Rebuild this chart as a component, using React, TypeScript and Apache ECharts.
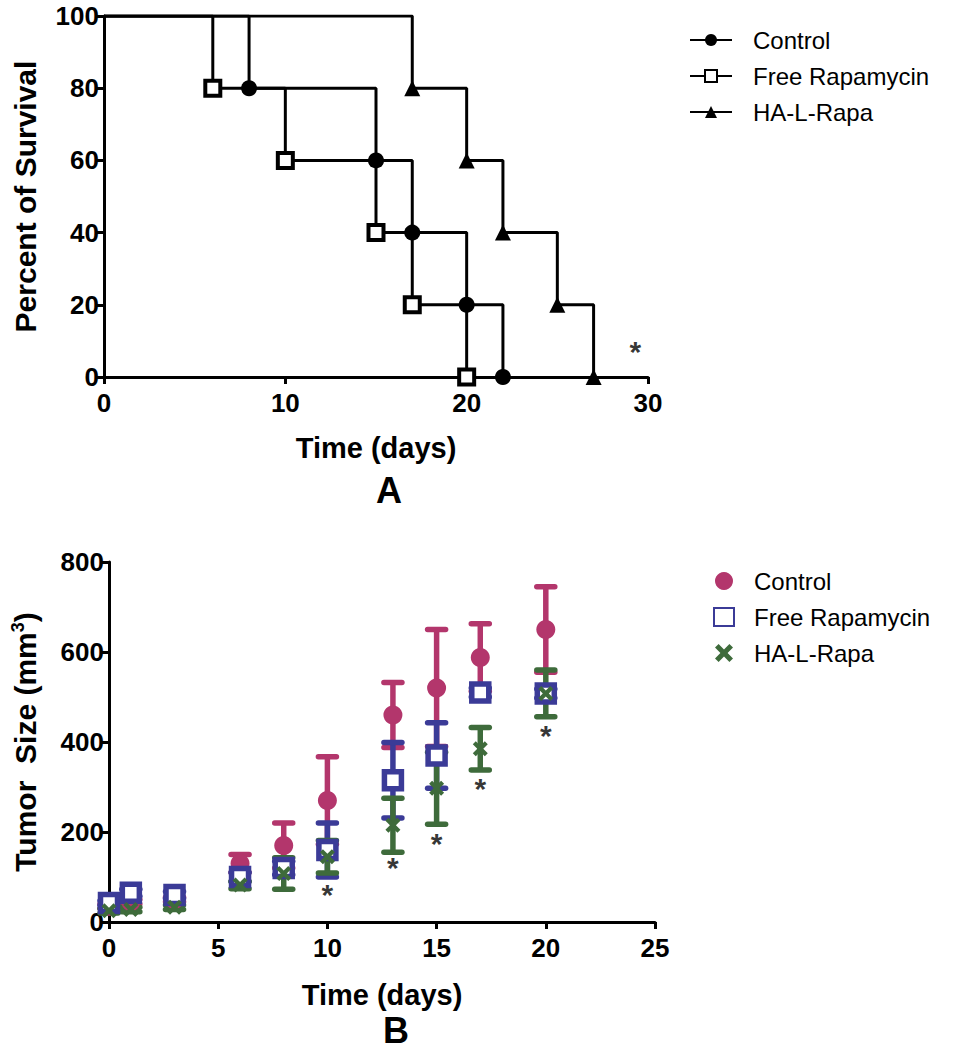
import React, { useEffect, useRef } from "react";
import * as echarts from "echarts";

// ---------- Panel A: Kaplan-Meier survival ----------
const survControlDays = [0, 8, 15, 17, 20, 22];
const survControlPct = [100, 80, 60, 40, 20, 0];
const survFreeDays = [0, 6, 10, 15, 17, 20];
const survFreePct = [100, 80, 60, 40, 20, 0];
const survHADays = [0, 17, 20, 22, 25, 27];
const survHAPct = [100, 80, 60, 40, 20, 0];
const survSigDay = [29.3];
const survSigPct = [7];

// ---------- Panel B: tumour size ----------
const tumorDays = [0, 1, 3, 6, 8, 10, 13, 15, 17, 20];
const ctrlMean = [35, 45, 50, 130, 170, 270, 460, 520, 588, 650];
const ctrlSD = [5, 5, 5, 20, 50, 97, 72, 130, 75, 95];
const freeMean = [42, 65, 60, 100, 120, 160, 315, 370, 510, 508];
const freeSD = [5, 8, 8, 10, 15, 60, 84, 73, 10, 10];
const haMean = [25, 28, 33, 82, 108, 145, 215, 297, 385, 508];
const haSD = [5, 5, 5, 8, 35, 36, 60, 80, 47, 52];
const sigDaysB = [10, 13, 15, 17, 20];
const sigYB = [62, 122, 175, 296, 415];

const FONT = '"Liberation Sans", Arial, Helvetica, sans-serif';
const MAGENTA = "#B3366C";
const BLUE = "#3B3B97";
const GREEN = "#3E6B3B";

const stepData = (xs: number[], ys: number[]) =>
  xs.map((x, i) => (i === 0 ? { value: [x, ys[i]], symbol: "none" } : { value: [x, ys[i]] }));

const errData = (mean: number[], sd: number[]) => tumorDays.map((d, i) => [d, mean[i], sd[i]]);

const errSeries = (name: string, mean: number[], sd: number[], color: string) => ({
  type: "custom",
  name,
  xAxisIndex: 1,
  yAxisIndex: 1,
  data: errData(mean, sd),
  encode: { x: 0, y: 1 },
  silent: true,
  renderItem: (params: any, api: any) => {
    const x = api.value(0);
    const y = api.value(1);
    const e = api.value(2);
    const top = api.coord([x, y + e]);
    const bot = api.coord([x, y - e]);
    const hw = 9;
    const st = { stroke: color, lineWidth: 5.5, lineCap: "round" };
    return {
      type: "group",
      children: [
        { type: "line", shape: { x1: top[0], y1: top[1], x2: bot[0], y2: bot[1] }, style: { stroke: color, lineWidth: 5.5 } },
        { type: "line", shape: { x1: top[0] - hw, y1: top[1], x2: top[0] + hw, y2: top[1] }, style: st },
        { type: "line", shape: { x1: bot[0] - hw, y1: bot[1], x2: bot[0] + hw, y2: bot[1] }, style: st },
      ],
    };
  },
});

const CROSS = "path://M2,0 L5,3 L8,0 L10,2 L7,5 L10,8 L8,10 L5,7 L2,10 L0,8 L3,5 L0,2 Z";

export default function App() {
  const ref = useRef<HTMLDivElement>(null);
  useEffect(() => {
    if (!ref.current) return;
    const chart = echarts.init(ref.current, null, { renderer: "svg" });
    const axisLine = { show: true, lineStyle: { color: "#000", width: 3 } };
    const axisTick = { show: true, inside: false, length: 7, lineStyle: { color: "#000", width: 3 } };
    const yLabel = { color: "#000", fontFamily: FONT, fontWeight: "bold", fontSize: 26, margin: 5 };
    const xLabel = { color: "#000", fontFamily: FONT, fontWeight: "bold", fontSize: 26, margin: 13 };
    const nameStyle = { color: "#000", fontFamily: FONT, fontWeight: "bold", fontSize: 29 };

    chart.setOption({
      animation: false,
      backgroundColor: "#fff",
      grid: [
        { left: 104, top: 16, width: 544, height: 361 },
        { left: 109, top: 562, width: 546, height: 360 },
      ],
      xAxis: [
        {
          gridIndex: 0, type: "value", min: 0, max: 30, interval: 10,
          axisLine, axisTick, axisLabel: xLabel, splitLine: { show: false },
          name: "Time (days)", nameLocation: "middle", nameGap: 56, nameTextStyle: nameStyle,
        },
        {
          gridIndex: 1, type: "value", min: 0, max: 25, interval: 5,
          axisLine, axisTick, axisLabel: xLabel, splitLine: { show: false },
          name: "Time (days)", nameLocation: "middle", nameGap: 58, nameTextStyle: nameStyle,
        },
      ],
      yAxis: [
        {
          gridIndex: 0, type: "value", min: 0, max: 100, interval: 20,
          axisLine, axisTick, axisLabel: yLabel, splitLine: { show: false },
          name: "Percent of Survival", nameLocation: "middle", nameGap: 64,
          nameTextStyle: { ...nameStyle, fontSize: 30 },
        },
        {
          gridIndex: 1, type: "value", min: 0, max: 800, interval: 200,
          axisLine, axisTick, axisLabel: yLabel, splitLine: { show: false },
          name: "{a|Tumor  Size (mm}{s|3}{a|)}", nameLocation: "middle", nameGap: 68,
          nameTextStyle: {
            ...nameStyle,
            rich: {
              a: { fontFamily: FONT, fontWeight: "bold", fontSize: 30, color: "#000" },
              s: { fontFamily: FONT, fontWeight: "bold", fontSize: 18, color: "#000", verticalAlign: "top", padding: [0, 0, 14, 0] },
            },
          },
        },
      ],
      legend: [
        {
          orient: "vertical", left: 684, top: 23, itemWidth: 42, itemHeight: 15, itemGap: 12,
          data: ["Control", "Free Rapamycin", "HA-L-Rapa"],
          textStyle: { fontFamily: FONT, fontSize: 24, color: "#000", padding: [0, 0, 0, 16] },
          selectedMode: false,
        },
        {
          orient: "vertical", left: 708, top: 564, itemWidth: 20, itemHeight: 18, itemGap: 12,
          data: ["Control (B)", "Free Rapamycin (B)", "HA-L-Rapa (B)"],
          formatter: (n: string) => n.replace(" (B)", ""),
          textStyle: { fontFamily: FONT, fontSize: 24, color: "#000", padding: [0, 0, 0, 15] },
          selectedMode: false,
        },
      ],
      series: [
        {
          type: "line", name: "Control", step: "end", xAxisIndex: 0, yAxisIndex: 0,
          data: stepData(survControlDays, survControlPct),
          lineStyle: { color: "#000", width: 3 },
          symbol: "circle", symbolSize: 16,
          itemStyle: { color: "#000" },
        },
        {
          type: "line", name: "Free Rapamycin", step: "end", xAxisIndex: 0, yAxisIndex: 0,
          data: stepData(survFreeDays, survFreePct),
          lineStyle: { color: "#000", width: 3 },
          symbol: "rect", symbolSize: 15,
          itemStyle: { color: "#fff", borderColor: "#000", borderWidth: 4 },
        },
        {
          type: "line", name: "HA-L-Rapa", step: "end", xAxisIndex: 0, yAxisIndex: 0,
          data: stepData(survHADays, survHAPct),
          lineStyle: { color: "#000", width: 3 },
          symbol: "triangle", symbolSize: 16,
          itemStyle: { color: "#000" },
        },
        {
          type: "scatter", name: "sigA", xAxisIndex: 0, yAxisIndex: 0,
          data: survSigDay.map((d, i) => [d, survSigPct[i]]),
          symbolSize: 1, itemStyle: { color: "rgba(0,0,0,0)" }, silent: true,
          label: { show: true, position: "inside", formatter: "*", fontFamily: FONT, fontWeight: "bold", fontSize: 30, color: "#000" },
        },
        // Panel B
        errSeries("ctrlErr", ctrlMean, ctrlSD, MAGENTA),
        {
          type: "scatter", name: "Control (B)", xAxisIndex: 1, yAxisIndex: 1,
          data: tumorDays.map((d, i) => [d, ctrlMean[i]]),
          symbol: "circle", symbolSize: 19, itemStyle: { color: MAGENTA, opacity: 1 },
        },
        errSeries("freeErr", freeMean, freeSD, BLUE),
        {
          type: "scatter", name: "Free Rapamycin (B)", xAxisIndex: 1, yAxisIndex: 1,
          data: tumorDays.map((d, i) => [d, freeMean[i]]),
          symbol: "rect", symbolSize: 17,
          itemStyle: { color: "#fff", borderColor: BLUE, borderWidth: 5.5, opacity: 1 },
        },
        errSeries("haErr", haMean, haSD, GREEN),
        {
          type: "scatter", name: "HA-L-Rapa (B)", xAxisIndex: 1, yAxisIndex: 1,
          data: tumorDays.map((d, i) => [d, haMean[i]]),
          symbol: CROSS, symbolSize: 15, itemStyle: { color: GREEN, opacity: 1 },
        },
        {
          type: "scatter", name: "sigB", xAxisIndex: 1, yAxisIndex: 1,
          data: sigDaysB.map((d, i) => [d, sigYB[i]]),
          symbolSize: 1, itemStyle: { color: "rgba(0,0,0,0)" }, silent: true,
          label: { show: true, position: "inside", formatter: "*", fontFamily: FONT, fontWeight: "bold", fontSize: 30, color: "#000" },
        },
      ],
      graphic: [
        {
          type: "text", left: 376, top: 472,
          style: { text: "A", fontFamily: FONT, fontWeight: "bold", fontSize: 36, fill: "#000", align: "center" },
        },
        {
          type: "text", left: 383, top: 1012,
          style: { text: "B", fontFamily: FONT, fontWeight: "bold", fontSize: 36, fill: "#000", align: "center" },
        },
      ],
    });
    return () => chart.dispose();
  }, []);
  return (
    <div
      ref={ref}
      style={{ position: "absolute", left: 0, top: 0, width: 971, height: 1050, background: "#fff" }}
    />
  );
}
